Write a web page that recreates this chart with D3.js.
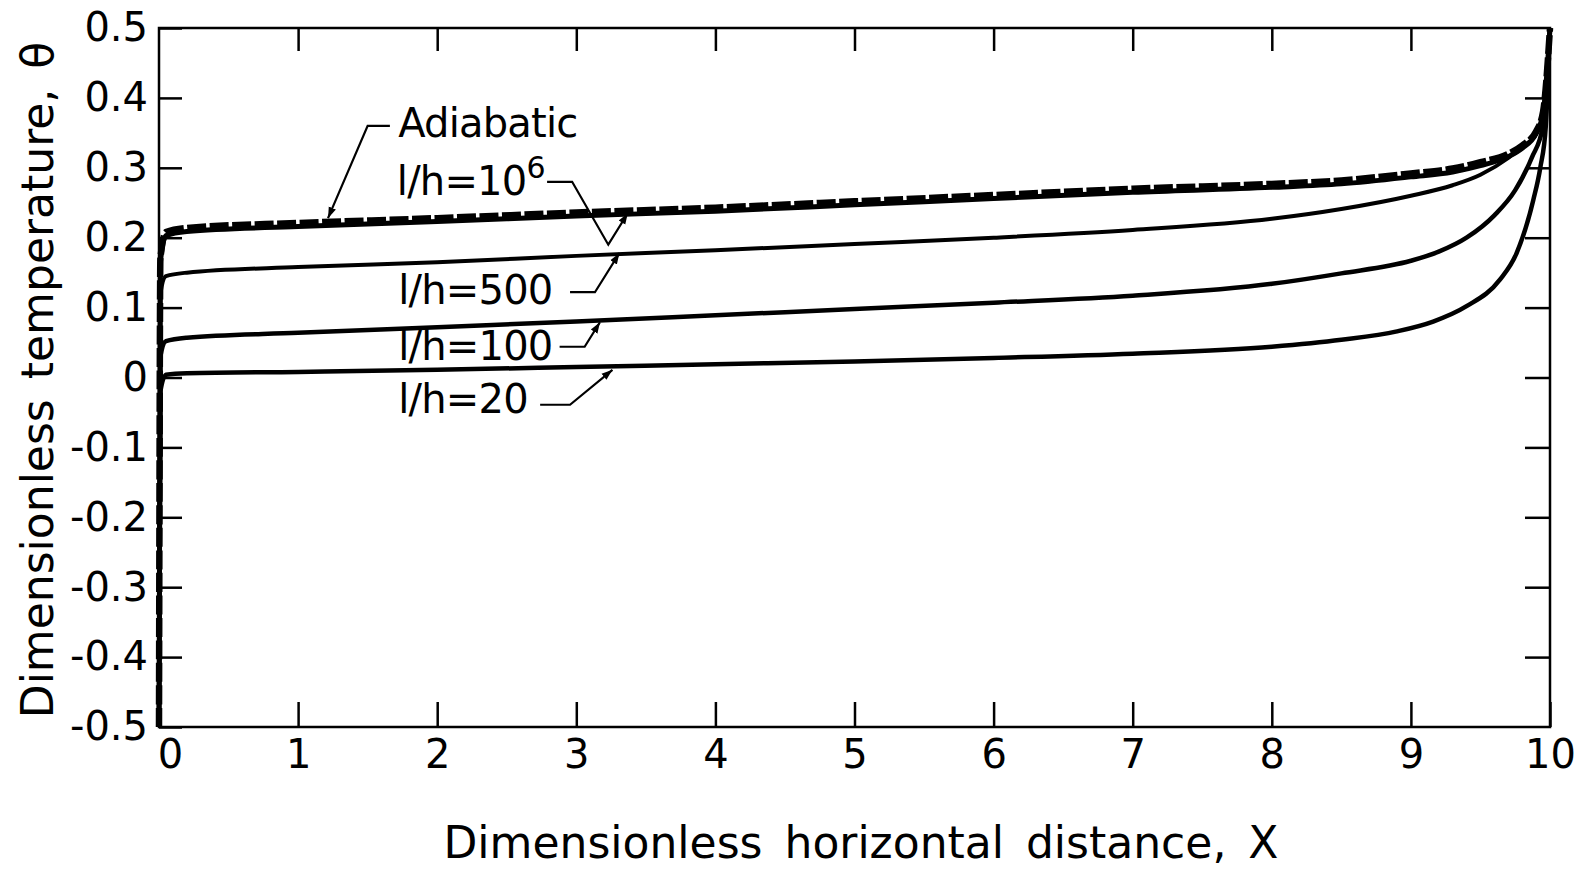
<!DOCTYPE html>
<html>
<head>
<meta charset="utf-8">
<script src="https://cdn.jsdelivr.net/npm/d3@7"></script>
<style>
  body { margin: 0; background: #fff; }
  text { font-family: "DejaVu Sans", sans-serif; fill: #000; }
</style>
</head>
<body>
<div id="chart"></div>
<script>
// values: [X, theta]
const adiabatic = [[0, -0.5], [0.01, 0.17], [0.05, 0.208], [0.2, 0.214], [1, 0.221], [2, 0.228], [3, 0.236],
  [4, 0.243], [5, 0.252], [6, 0.261], [7, 0.27], [8, 0.277], [8.5, 0.282], [9, 0.292], [9.3, 0.299],
  [9.5, 0.308], [9.7, 0.32], [9.8, 0.332], [9.9, 0.352], [9.95, 0.38], [10, 0.5]];
const h1e6 = [[0, -0.5], [0.01, 0.165], [0.05, 0.203], [0.2, 0.209], [1, 0.216], [2, 0.223], [3, 0.231],
  [4, 0.238], [5, 0.247], [6, 0.256], [7, 0.265], [8, 0.272], [8.5, 0.277], [9, 0.287], [9.3, 0.294],
  [9.5, 0.303], [9.7, 0.316], [9.8, 0.328], [9.9, 0.349], [9.95, 0.378], [10, 0.5]];
const h500 = [[0, -0.5], [0.01, 0.12], [0.05, 0.145], [0.2, 0.15], [1, 0.158], [2, 0.165], [3, 0.174],
  [4, 0.182], [5, 0.191], [6, 0.2], [7, 0.211], [8, 0.227], [8.5, 0.241], [9, 0.26], [9.3, 0.275],
  [9.5, 0.29], [9.7, 0.314], [9.8, 0.33], [9.9, 0.348], [9.95, 0.372], [10, 0.5]];
const h100 = [[0, -0.5], [0.01, 0.03], [0.05, 0.052], [0.2, 0.057], [1, 0.064], [2, 0.072], [3, 0.08],
  [4, 0.089], [5, 0.098], [6, 0.107], [7, 0.117], [8, 0.134], [8.5, 0.149], [9, 0.167], [9.2, 0.18],
  [9.4, 0.2], [9.6, 0.232], [9.75, 0.268], [9.87, 0.315], [9.95, 0.36], [10, 0.5]];
const h20 = [[0, -0.5], [0.01, -0.02], [0.05, 0.004], [0.2, 0.006], [1, 0.008], [2, 0.011], [3, 0.015],
  [4, 0.019], [5, 0.023], [6, 0.028], [7, 0.034], [8, 0.044], [8.5, 0.054], [8.9, 0.066], [9.16, 0.08],
  [9.4, 0.102], [9.64, 0.14], [9.76, 0.178], [9.88, 0.254], [9.93, 0.3], [9.97, 0.36], [10, 0.5]];

const xTicks = [0, 1, 2, 3, 4, 5, 6, 7, 8, 9, 10];
const yTicks = [0.5, 0.4, 0.3, 0.2, 0.1, 0, -0.1, -0.2, -0.3, -0.4, -0.5];
const yTickLabels = ['0.5', '0.4', '0.3', '0.2', '0.1', '0', '-0.1', '-0.2', '-0.3', '-0.4', '-0.5'];

const annotations = [
  { text: 'Adiabatic', at: [1.72, 0.344], leader: [[1.66, 0.36], [1.5, 0.36], [1.215, 0.228]] },
  { text: 'l/h=10', sup: '6', at: [1.71, 0.261], leader: [[2.79, 0.28], [2.97, 0.28], [3.23, 0.19], [3.37, 0.235]] },
  { text: 'l/h=500', at: [1.72, 0.105], leader: [[2.955, 0.122], [3.134, 0.122], [3.31, 0.178]] },
  { text: 'l/h=100', at: [1.72, 0.025], leader: [[2.88, 0.044], [3.06, 0.044], [3.17, 0.079]] },
  { text: 'l/h=20', at: [1.72, -0.051], leader: [[2.74, -0.039], [2.955, -0.039], [3.26, 0.011]] },
];

const width = 1578;
const height = 877;
const margin = { top: 28, right: 28, bottom: 150, left: 159 };
const iw = width - margin.left - margin.right;
const ih = height - margin.top - margin.bottom;

const svg = d3.select('#chart').append('svg')
  .attr('width', width)
  .attr('height', height);

const defs = svg.append('defs');
defs.append('marker')
  .attr('id', 'arrow')
  .attr('viewBox', '0 0 10 10')
  .attr('refX', 10)
  .attr('refY', 5)
  .attr('markerWidth', 5)
  .attr('markerHeight', 5)
  .attr('markerUnits', 'strokeWidth')
  .attr('orient', 'auto')
  .append('path')
  .attr('d', 'M0,1.5 L10,5 L0,8.5 Z')
  .attr('fill', '#000');

const g = svg.append('g').attr('transform', `translate(${margin.left},${margin.top})`);

const x = d3.scaleLinear().domain([0, 10]).range([0, iw]);
const y = d3.scaleLinear().domain([-0.5, 0.5]).range([ih, 0]);

// axes with inward ticks
const axisStyle = (sel) => {
  sel.select('.domain').remove();
  sel.selectAll('.tick line').attr('stroke', '#000').attr('stroke-width', 2.5);
  sel.selectAll('.tick text').attr('font-size', 40).attr('fill', '#000').attr('font-family', '"DejaVu Sans", sans-serif');
};

g.append('g')
  .attr('transform', `translate(0,${ih})`)
  .call(d3.axisBottom(x).tickValues(xTicks).tickFormat(d3.format('d')).tickSize(-25).tickPadding(13))
  .call(axisStyle)
  .call((s) => s.selectAll('.tick text').filter((d) => d === 0).attr('dx', 11));

g.append('g')
  .call(d3.axisTop(x).tickValues(xTicks.slice(1, -1)).tickSize(-23).tickFormat(''))
  .call(axisStyle);

g.append('g')
  .call(d3.axisLeft(y).tickValues(yTicks).tickFormat((d, i) => yTickLabels[i]).tickSize(-23).tickPadding(11))
  .call(axisStyle);

g.append('g')
  .attr('transform', `translate(${iw},0)`)
  .call(d3.axisRight(y).tickValues(yTicks.slice(1, -1)).tickSize(-25).tickFormat(''))
  .call(axisStyle);

g.append('rect')
  .attr('width', iw)
  .attr('height', ih)
  .attr('fill', 'none')
  .attr('stroke', '#000')
  .attr('stroke-width', 2.5);

// curves
const line = d3.line()
  .x((d) => x(d[0]))
  .y((d) => y(d[1]))
  .curve(d3.curveMonotoneX);

const series = [
  { data: h20, w: 4.5 },
  { data: h100, w: 4.5 },
  { data: h500, w: 4 },
  { data: h1e6, w: 5 },
];

g.selectAll('path.curve')
  .data(series)
  .join('path')
  .attr('class', 'curve')
  .attr('d', (d) => line(d.data))
  .attr('fill', 'none')
  .attr('stroke', '#000')
  .attr('stroke-width', (d) => d.w)
  .attr('stroke-linejoin', 'round');

g.append('path')
  .attr('d', line(adiabatic))
  .attr('fill', 'none')
  .attr('stroke', '#000')
  .attr('stroke-width', 6.5)
  .attr('stroke-dasharray', '19 3.5');

// labels and leaders
const leader = d3.line().x((d) => x(d[0])).y((d) => y(d[1]));

const ann = g.selectAll('g.ann')
  .data(annotations)
  .join('g')
  .attr('class', 'ann');

ann.append('path')
  .attr('d', (d) => leader(d.leader))
  .attr('fill', 'none')
  .attr('stroke', '#000')
  .attr('stroke-width', 2.2)
  .attr('marker-end', 'url(#arrow)');

const lbl = ann.append('text')
  .attr('x', (d) => x(d.at[0]))
  .attr('y', (d) => y(d.at[1]))
  .attr('font-size', 40)
  .attr('letter-spacing', -0.8)
  .text((d) => d.text);

lbl.filter((d) => d.sup)
  .append('tspan')
  .attr('dy', -17)
  .attr('font-size', 30)
  .text((d) => d.sup);

// axis titles
svg.append('text')
  .attr('x', 861)
  .attr('y', 858)
  .attr('text-anchor', 'middle')
  .attr('font-size', 44)
  .attr('word-spacing', 8)
  .text('Dimensionless horizontal distance, X');

svg.append('text')
  .attr('transform', `translate(53,${380}) rotate(-90)`)
  .attr('text-anchor', 'middle')
  .attr('font-size', 44)
  .attr('word-spacing', 6)
  .text('Dimensionless temperature, θ');
</script>
</body>
</html>
